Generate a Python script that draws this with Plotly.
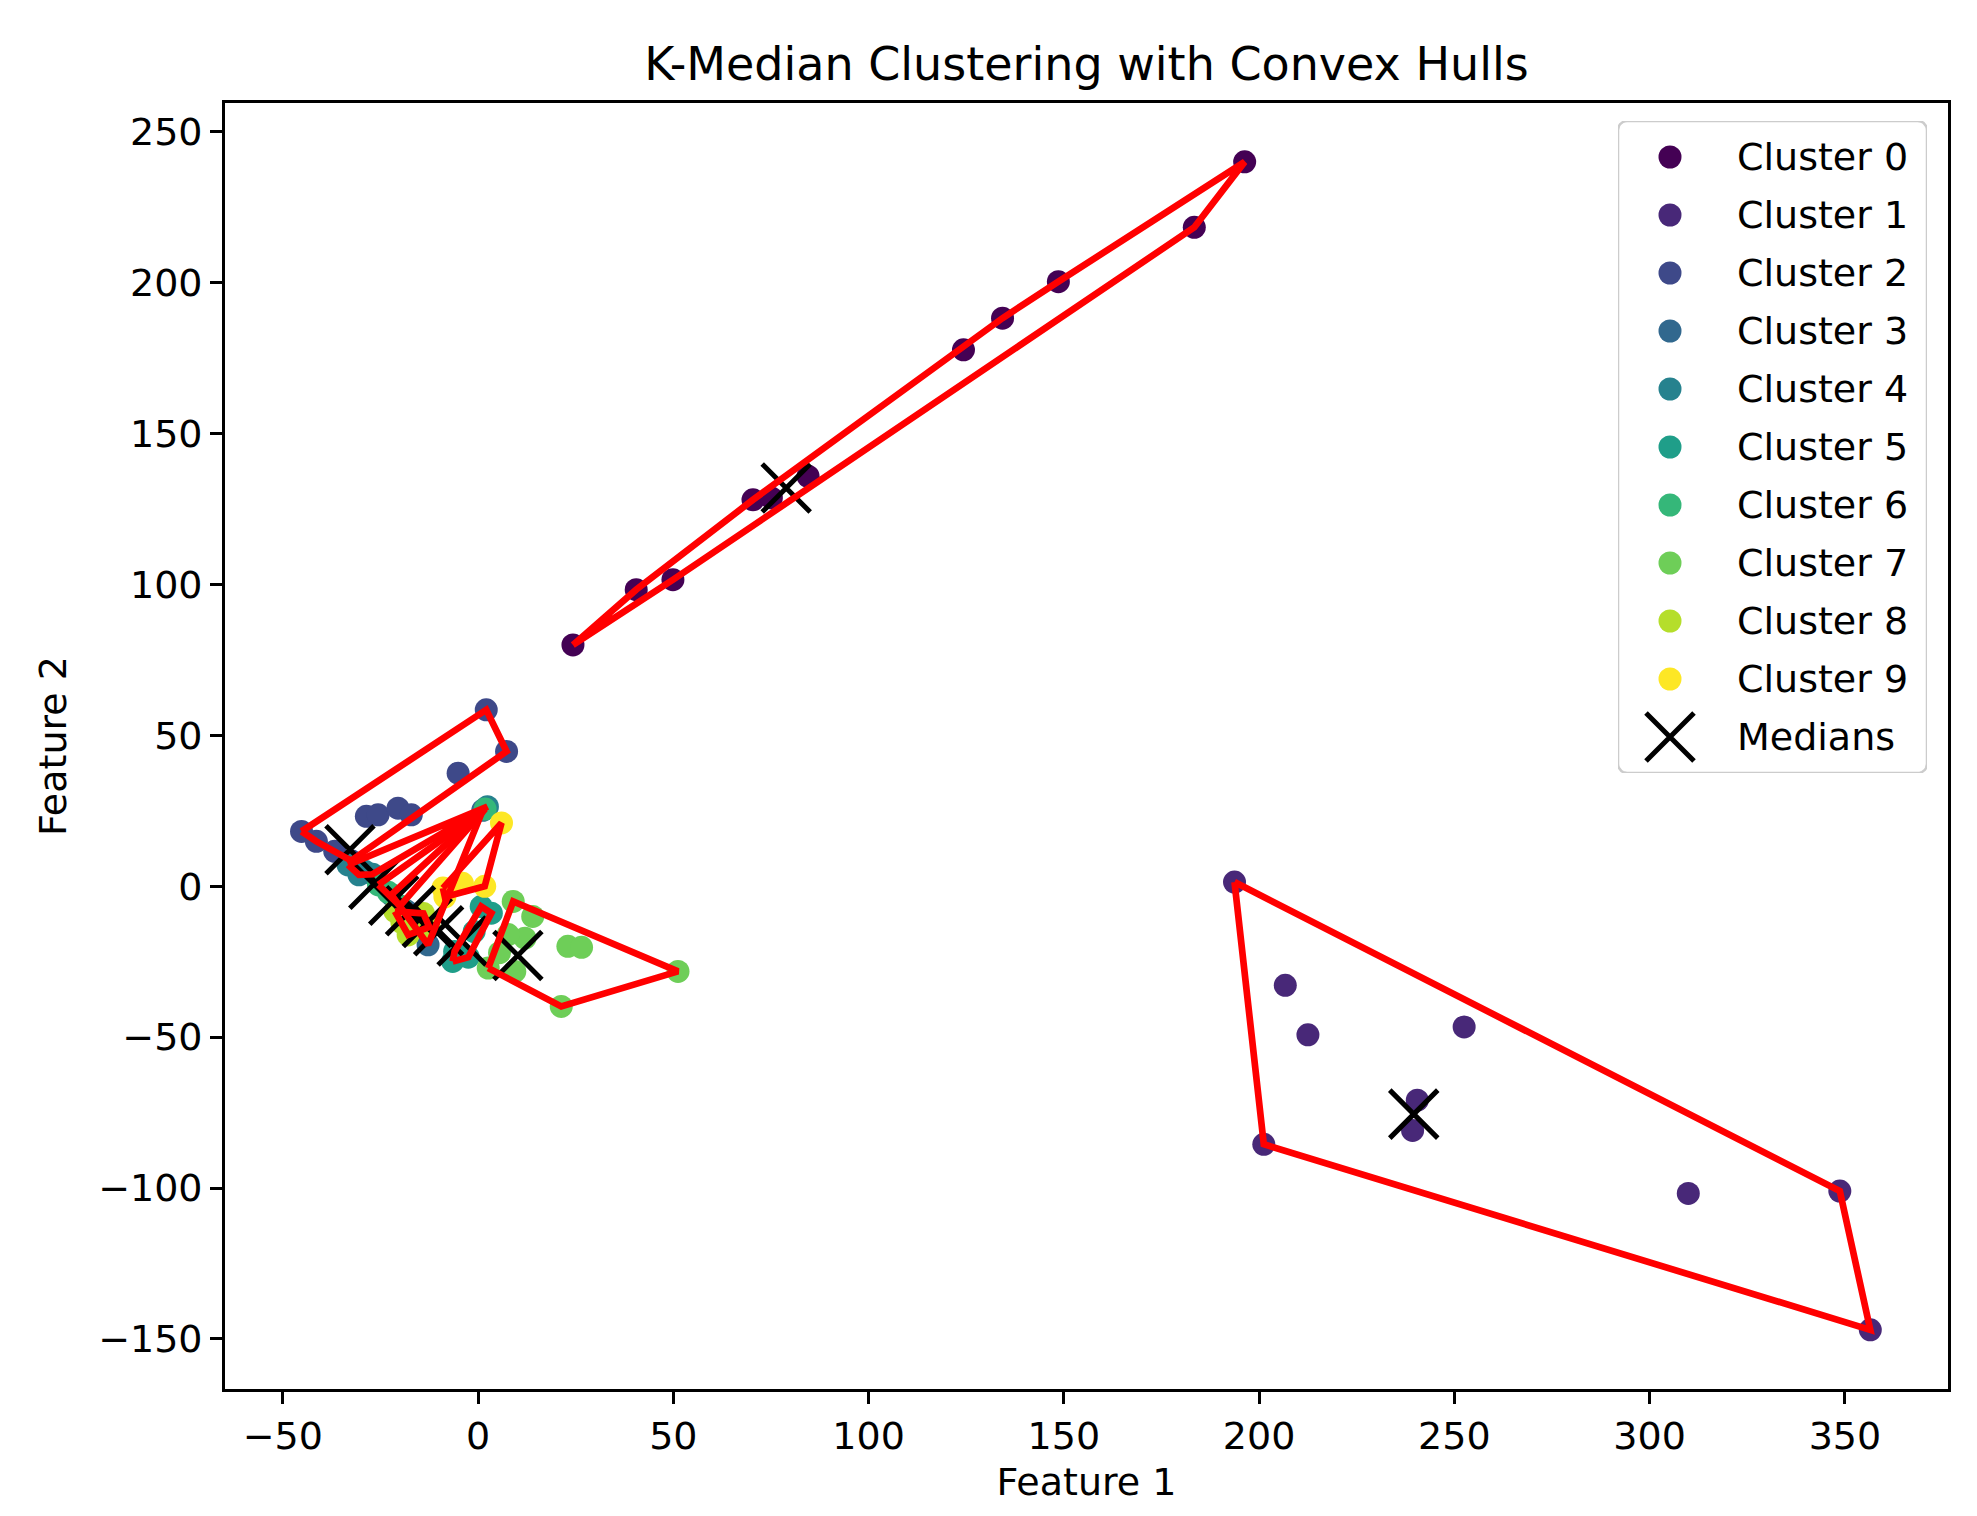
import numpy as np
import plotly.graph_objects as go

# ---------------- data ----------------
cluster_names = [f"Cluster {i}" for i in range(10)]
cluster_colors = ["#440154", "#482878", "#3e4989", "#31688e", "#26828e",
                  "#1f9e89", "#35b779", "#6ece58", "#b5de2b", "#fde725"]

c0_x = [24.3, 40.5, 49.9, 70.4, 75.1, 84.5, 124.3, 134.3, 148.6, 183.4, 196.3]
c0_y = [80.0, 98.3, 101.6, 128.1, 128.7, 135.9, 177.8, 188.3, 200.4, 218.4, 240.1]

c1_x = [193.7, 206.7, 212.5, 252.5, 240.5, 239.3, 201.2, 309.9, 348.7, 356.5]
c1_y = [1.4, -32.8, -49.2, -46.6, -70.9, -80.9, -85.5, -101.8, -101.0, -147.0]

c2_x = [2.1, 7.3, -5.1, -45.2, -28.6, -25.6, -20.5, -17.1, -41.4, -36.7, -32.5]
c2_y = [58.5, 44.7, 37.5, 18.2, 23.2, 23.7, 25.9, 23.7, 14.9, 11.6, 8.5]

c3_x = [1.2, -22.2, -12.8, -16.0, -18.5]
c3_y = [25.2, -2.8, -19.4, -12.0, -8.0]

c4_x = [2.4, -33.3, -30.5, -29.0, -27.0]
c4_y = [26.4, 7.1, 3.8, 5.0, 4.0]

c5_x = [3.4, 0.8, -6.0, -6.5, -2.5, -1.0]
c5_y = [-8.9, -6.7, -21.6, -24.9, -23.5, -15.0]

c6_x = [1.8, -25.5, -20.0, -23.0]
c6_y = [25.6, 0.5, -6.5, -2.0]

c7_x = [9.0, 51.2, 21.3, 2.6, 23.0, 26.5, 12.0, 7.7, 9.4, 5.5, 14.0]
c7_y = [-5.0, -28.2, -39.8, -27.1, -19.9, -20.2, -17.2, -16.0, -28.2, -22.0, -10.0]

c8_x = [-21.3, -17.9, -14.0, -19.5, -12.5]
c8_y = [-8.3, -16.1, -9.0, -12.0, -13.5]

c9_x = [6.0, 1.7, -9.0, -8.5, -4.0]
c9_y = [21.0, 0.0, -0.6, -3.5, 1.0]

median_x = [78.9, 239.6, -32.8, -17.3, -26.7, -4.1, -21.6, 10.2, -13.0, -10.1]
median_y = [132.0, -75.5, 12.1, -8.1, 0.7, -18.1, -4.6, -22.9, -12.0, -14.7]

x_ticks = [-50, 0, 50, 100, 150, 200, 250, 300, 350]
y_ticks = [-150, -100, -50, 0, 50, 100, 150, 200, 250]

clusters_x = [c0_x, c1_x, c2_x, c3_x, c4_x, c5_x, c6_x, c7_x, c8_x, c9_x]
clusters_y = [c0_y, c1_y, c2_y, c3_y, c4_y, c5_y, c6_y, c7_y, c8_y, c9_y]


def convex_hull(xs, ys):
    pts = sorted(set(zip(xs, ys)))
    if len(pts) <= 2:
        return pts

    def cross(o, a, b):
        return (a[0] - o[0]) * (b[1] - o[1]) - (a[1] - o[1]) * (b[0] - o[0])

    lower, upper = [], []
    for p in pts:
        while len(lower) >= 2 and cross(lower[-2], lower[-1], p) <= 0:
            lower.pop()
        lower.append(p)
    for p in reversed(pts):
        while len(upper) >= 2 and cross(upper[-2], upper[-1], p) <= 0:
            upper.pop()
        upper.append(p)
    return lower[:-1] + upper[:-1]


# ---------------- layout constants (pixels) ----------------
W, H = 1977, 1516
PL, PR, PT, PB = 217, 1940, 95, 1381
FONT = "DejaVu Sans"
TICK_FS = 38
TITLE_FS = 46

fig = go.Figure()

# cluster points
for name, col, xs, ys in zip(cluster_names, cluster_colors, clusters_x, clusters_y):
    fig.add_trace(go.Scatter(
        x=xs, y=ys, mode="markers", name=name, showlegend=False,
        marker=dict(color=col, size=23, line=dict(width=0)),
    ))

# medians
fig.add_trace(go.Scatter(
    x=median_x, y=median_y, mode="markers", name="Medians", showlegend=False,
    marker=dict(symbol="x-thin-open", size=48, color="black",
                line=dict(color="black", width=5)),
))

# convex hulls
for xs, ys in zip(clusters_x, clusters_y):
    hull = convex_hull(xs, ys)
    hx = [p[0] for p in hull] + [hull[0][0]]
    hy = [p[1] for p in hull] + [hull[0][1]]
    fig.add_trace(go.Scatter(
        x=hx, y=hy, mode="lines", showlegend=False, hoverinfo="skip",
        line=dict(color="#ff0000", width=6.7),
    ))

# ---------------- manual legend on an overlay axis ----------------
LX0, LX1, LY0, LY1 = 1610, 1919, 113, 765
pw, ph = PR - PL, PB - PT
r = 9
t = np.linspace(0, np.pi / 2, 8)
bx, by = [], []
for cx, cy, a0 in [(LX1 - r, LY0 + r, -np.pi / 2), (LX1 - r, LY1 - r, 0),
                   (LX0 + r, LY1 - r, np.pi / 2), (LX0 + r, LY0 + r, np.pi)]:
    bx += list(cx + r * np.cos(a0 + t))
    by += list(cy + r * np.sin(a0 + t))
bx.append(bx[0])
by.append(by[0])
fig.add_trace(go.Scatter(
    x=bx, y=by, xaxis="x2", yaxis="y2", mode="lines", fill="toself",
    fillcolor="rgba(255,255,255,0.8)", line=dict(color="#cccccc", width=2.5),
    showlegend=False, hoverinfo="skip",
))

row0, row_step = 149, 58
marker_x, text_x = 1662, 1727
for i, (name, col) in enumerate(zip(cluster_names, cluster_colors)):
    yy = row0 + row_step * i
    fig.add_trace(go.Scatter(
        x=[marker_x], y=[yy], xaxis="x2", yaxis="y2", mode="markers",
        marker=dict(color=col, size=23), showlegend=False, hoverinfo="skip",
    ))
    fig.add_annotation(x=text_x, y=yy, xref="x2", yref="y2", text=name,
                       showarrow=False, xanchor="left", yanchor="middle",
                       font=dict(family=FONT, size=TICK_FS, color="black"))
yy = row0 + row_step * 10
fig.add_trace(go.Scatter(
    x=[marker_x], y=[yy], xaxis="x2", yaxis="y2", mode="markers",
    marker=dict(symbol="x-thin-open", size=48, color="black",
                line=dict(color="black", width=5)),
    showlegend=False, hoverinfo="skip",
))
fig.add_annotation(x=text_x, y=yy, xref="x2", yref="y2", text="Medians",
                   showarrow=False, xanchor="left", yanchor="middle",
                   font=dict(family=FONT, size=TICK_FS, color="black"))

axis_common = dict(
    showgrid=False, zeroline=False, showline=True, mirror=True,
    linecolor="black", linewidth=2.7, ticks="outside", ticklen=12,
    tickwidth=2.7, tickcolor="black",
    tickfont=dict(family=FONT, size=TICK_FS, color="black"),
)

fig.update_layout(
    width=W, height=H,
    margin=dict(l=PL, r=W - PR, t=PT, b=H - PB, pad=0),
    paper_bgcolor="white", plot_bgcolor="white",
    font=dict(family=FONT, color="black"),
    title=dict(text="K-Median Clustering with Convex Hulls",
               x=(PL + PR) / 2 / W, xanchor="center", xref="container",
               y=1 - 56 / H, yanchor="middle", yref="container",
               font=dict(family=FONT, size=TITLE_FS, color="black")),
    xaxis=dict(range=[-64.8, 376.4], tickvals=x_ticks,
               title=dict(text="Feature 1", standoff=11,
                          font=dict(family=FONT, size=TICK_FS, color="black")),
               **axis_common),
    yaxis=dict(range=[-166.6, 259.6], tickvals=y_ticks,
               title=dict(text="Feature 2", standoff=20,
                          font=dict(family=FONT, size=TICK_FS, color="black")),
               **axis_common),
    xaxis2=dict(domain=[(LX0 - PL) / pw, (LX1 - PL) / pw], range=[LX0, LX1],
                anchor="y2", visible=False, fixedrange=True),
    yaxis2=dict(domain=[(PB - LY1) / ph, (PB - LY0) / ph], range=[LY1, LY0],
                anchor="x2", visible=False, fixedrange=True),
    showlegend=False,
)

fig.write_html("out.html")
